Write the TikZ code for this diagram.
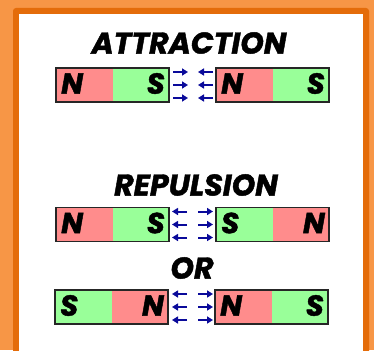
\documentclass[tikz,border=0pt]{standalone}
\usepackage{fontspec}
\setmainfont{Poppins}[BoldItalicFeatures={FakeBold=1.5}]
\usetikzlibrary{arrows.meta}
\definecolor{bgorange}{HTML}{F79646}
\definecolor{frameorange}{HTML}{E46C0A}
\definecolor{npole}{HTML}{FF8C8C}
\definecolor{spole}{HTML}{99FF99}
\definecolor{arrowblue}{HTML}{0A0A9A}
\tikzset{
  half/.style={minimum width=56.5pt, minimum height=34pt, inner sep=0pt, outer sep=0pt},
  pole/.style={font=\bfseries\itshape\fontsize{29}{29}\selectfont, inner sep=0pt, text=black},
  outline/.style={draw=black!85, line width=1.8pt},
  title/.style={font=\bfseries\itshape\fontsize{30}{30}\selectfont, text=black},
  fieldarrow/.style={draw=arrowblue, line width=2pt, -{Triangle[length=6pt,width=7pt]}},
}
% \magbar{name}{x left}{y center}{left colour}{left letter}{right colour}{right letter}
\newcommand{\magbar}[7]{%
  \node[half, fill=#4, anchor=west] (#1l) at (#2,#3) {};
  \node[half, fill=#6, anchor=west] (#1r) at (#1l.east) {};
  \draw[outline] (#1l.north west) rectangle (#1r.south east);
  \node[pole, anchor=west] (#1lt) at ([xshift=5pt,yshift=1.5pt]#1l.west) {#5};
  \node[pole, anchor=east] (#1rt) at ([xshift=-4pt,yshift=1.5pt]#1r.east) {#7};
}
\begin{document}
\begin{tikzpicture}[x=1pt,y=-1pt]
\useasboundingbox (0,0) rectangle (374,350);
\fill[bgorange] (0,0) rectangle (374,350);
\begin{scope}
\clip (0,0) rectangle (374,350);
\fill[frameorange, rounded corners=3pt] (13,8) rectangle (369,370);
\fill[white] (19,14) rectangle (363,370);
\end{scope}

\node[title] (t1) at (189,43) {ATTRACTION};
\node[title] (t2) at (196,185) {REPULSION};
\node[title] (t3) at (192,268) {OR};

\magbar{a}{56}{85}{npole}{N}{spole}{S}
\magbar{b}{216}{85}{npole}{N}{spole}{S}
\magbar{c}{56}{224.5}{npole}{N}{spole}{S}
\magbar{d}{216}{224.5}{spole}{S}{npole}{N}
\magbar{e}{55}{307}{spole}{S}{npole}{N}
\magbar{f}{215}{307}{npole}{N}{spole}{S}

\foreach \dy in {-13,0,13}{
  \draw[fieldarrow] ([xshift=4pt,yshift=\dy]ar.east) -- ([xshift=19pt,yshift=\dy]ar.east);
  \draw[fieldarrow] ([xshift=-3pt,yshift=\dy]bl.west) -- ([xshift=-18pt,yshift=\dy]bl.west);
  \draw[fieldarrow] ([xshift=18pt,yshift=\dy]cr.east) -- ([xshift=3pt,yshift=\dy]cr.east);
  \draw[fieldarrow] ([xshift=-18pt,yshift=\dy]dl.west) -- ([xshift=-3pt,yshift=\dy]dl.west);
  \draw[fieldarrow] ([xshift=19pt,yshift=\dy]er.east) -- ([xshift=4pt,yshift=\dy]er.east);
  \draw[fieldarrow] ([xshift=-17pt,yshift=\dy]fl.west) -- ([xshift=-2pt,yshift=\dy]fl.west);
}
\end{tikzpicture}
\end{document}
